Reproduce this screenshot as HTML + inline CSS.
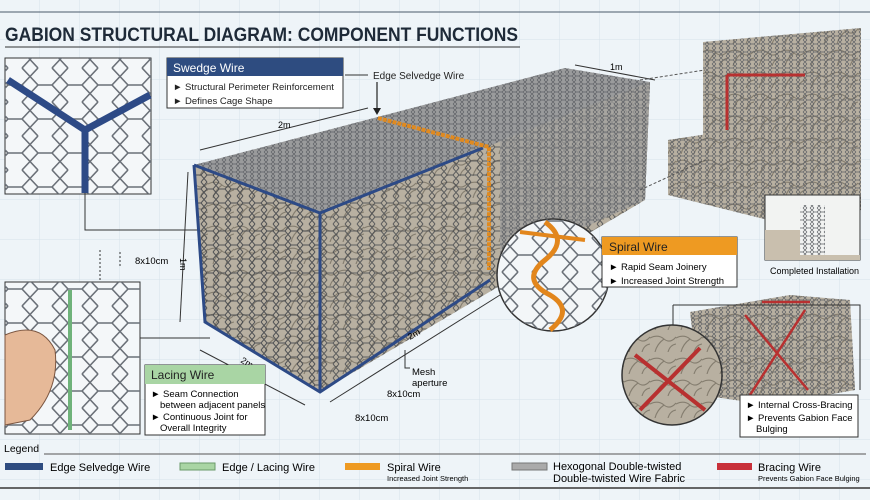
<!DOCTYPE html>
<html><head><meta charset="utf-8"><style>
html,body{margin:0;padding:0;background:#eef4f8}
svg{display:block}
text{font-family:"Liberation Sans",sans-serif}
</style></head><body>
<svg width="870" height="500" viewBox="0 0 870 500" xmlns="http://www.w3.org/2000/svg">
<defs>
<pattern id="grid" width="40" height="40" patternUnits="userSpaceOnUse"><path d="M40 0V40M0 40H40" stroke="#d6e2ea" stroke-width="1" fill="none"/></pattern>
<pattern id="hex" width="12" height="14" patternUnits="userSpaceOnUse"><path d="M3 0L0 3.5L3 7L9 7L12 3.5L9 0M3 7L0 10.5L3 14M9 7L12 10.5L9 14" fill="none" stroke="#3e4248" stroke-width="1"/></pattern>
<pattern id="hexs" width="7" height="8" patternUnits="userSpaceOnUse"><path d="M2 0L0 2L2 4L5 4L7 2L5 0M2 4L0 6L2 8M5 4L7 6L5 8" fill="none" stroke="#5d6065" stroke-width=".7"/></pattern>
<pattern id="hexbig" width="30" height="34" patternUnits="userSpaceOnUse"><path d="M8 0L0 8.5L8 17L22 17L30 8.5L22 0M8 17L0 25.5L8 34M22 17L30 25.5L22 34" fill="none" stroke="#6a7078" stroke-width="1.6"/></pattern>
<pattern id="stone" width="26" height="22" patternUnits="userSpaceOnUse"><rect width="26" height="22" fill="#b8b0a1"/><path d="M0 8Q8 4 14 9T26 7M5 22Q7 14 14 9M18 22Q20 15 26 14" fill="none" stroke="#847d6f" stroke-width="1.1"/></pattern>
</defs>
<rect width="870" height="500" fill="#eef4f8"/>
<rect width="870" height="500" fill="url(#grid)"/>
<line x1="0" y1="12" x2="870" y2="12" stroke="#4a5a6a" stroke-width="1"/>
<text x="5" y="41" font-size="19" font-weight="bold" fill="#1e2a38" textLength="513" lengthAdjust="spacingAndGlyphs">GABION STRUCTURAL DIAGRAM: COMPONENT FUNCTIONS</text>
<line x1="5" y1="47" x2="520" y2="47" stroke="#333" stroke-width="1"/>

<rect x="5" y="58" width="146" height="136" fill="#f4f7f9" stroke="#333"/>
<rect x="5" y="58" width="146" height="136" fill="url(#hexbig)"/>
<path d="M8 80L85 130L150 95M85 130V193" stroke="#2d4a86" stroke-width="7" fill="none"/>
<path d="M85 193V230H200" stroke="#333" fill="none"/>

<rect x="167" y="58" width="176" height="50" fill="#fff" stroke="#333"/>
<rect x="167" y="58" width="176" height="18" fill="#2e4c80"/>
<text x="173" y="72" font-size="12" fill="#fff">Swedge Wire</text>
<text x="173" y="90" font-size="9.5" fill="#222">► Structural Perimeter Reinforcement</text>
<text x="173" y="104" font-size="9.5" fill="#222">► Defines Cage Shape</text>
<path d="M345 75H368" stroke="#333"/>
<text x="373" y="79" font-size="10" fill="#222">Edge Selvedge Wire</text>
<path d="M377 82V112" stroke="#222" stroke-width="1.2"/><path d="M373 108L377 115L381 108Z" fill="#222"/>

<polygon points="194,165 320,213 645,200 650,82 565,68" fill="#9a9b9c"/>
<polygon points="194,165 320,213 650,82 565,68" fill="url(#hexs)"/>
<polygon points="320,213 650,82 645,200 320,392" fill="url(#stone)"/>
<polygon points="320,213 650,82 645,200 320,392" fill="url(#hex)" opacity=".75"/>
<polygon points="500,140 650,82 645,200 500,265" fill="#a2a2a0" opacity=".75"/>
<polygon points="500,140 650,82 645,200 500,265" fill="url(#hexs)"/>
<polygon points="194,165 320,213 320,392 205,322" fill="url(#stone)"/>
<polygon points="194,165 320,213 320,392 205,322" fill="url(#hex)" opacity=".85"/>
<path d="M194,165L320,213L483,148M320,213V392M194,165L205,322L320,392L490,280" stroke="#2d4a86" stroke-width="3" fill="none"/>
<path d="M378,118L489,147V270" stroke="#e08a20" stroke-width="4" fill="none" stroke-dasharray="4 1"/>
<path d="M188,172L180,322" stroke="#333"/><text x="180" y="258" font-size="9" transform="rotate(90 180 258)">1m</text>
<path d="M200,150L368,108" stroke="#333"/><text x="278" y="128" font-size="9">2m</text>
<path d="M575,65L655,80" stroke="#333"/><text x="610" y="70" font-size="9">1m</text>
<path d="M200,350L305,405" stroke="#333"/><text x="240" y="362" font-size="9" transform="rotate(30 240 362)">2m</text>
<path d="M330,402L500,295" stroke="#333"/><text x="410" y="340" font-size="9" transform="rotate(-30 410 340)">2m</text>
<text x="412" y="375" font-size="9.5">Mesh</text><text x="412" y="386" font-size="9.5">aperture</text>
<path d="M405,350V368H410" stroke="#333" fill="none"/>
<text x="387" y="397" font-size="9.5">8x10cm</text>
<text x="355" y="421" font-size="9.5">8x10cm</text>
<text x="135" y="264" font-size="9.5">8x10cm</text>
<path d="M120,252V268M100,250V300" stroke="#333" stroke-dasharray="2 2"/>

<polygon points="703,42 861,28 861,130 800,140 703,150" fill="url(#stone)"/>
<polygon points="703,42 861,28 861,130 800,140 703,150" fill="url(#hexs)"/>
<polygon points="668,140 800,120 861,118 861,210 800,228 668,195" fill="url(#stone)"/>
<polygon points="668,140 800,120 861,118 861,210 800,228 668,195" fill="url(#hexs)"/>
<path d="M727,75V130M727,75H805" stroke="#b83030" stroke-width="3"/>
<path d="M640,80L705,70M640,190L705,160" stroke="#555" stroke-dasharray="3 2"/>
<rect x="765" y="195" width="95" height="65" fill="#f2f3f2" stroke="#333"/>
<polygon points="765,230 800,230 800,255 860,255 860,260 765,260" fill="#c9bfae"/>
<rect x="800" y="205" width="25" height="50" fill="url(#hexs)"/>
<text x="770" y="274" font-size="9">Completed Installation</text>

<circle cx="553" cy="275" r="56" fill="#f3f6f8" stroke="#333" stroke-width="1.5"/>
<circle cx="553" cy="275" r="56" fill="url(#hexbig)"/>
<path d="M545,222Q570,240 545,260Q520,280 550,295Q575,310 550,330" stroke="#e2861c" stroke-width="5" fill="none"/>
<path d="M520,232L585,240" stroke="#e2861c" stroke-width="4"/>
<rect x="602" y="237" width="135" height="50" fill="#fff" stroke="#333"/>
<rect x="602" y="237" width="135" height="18" fill="#ee9a22"/>
<text x="609" y="251" font-size="12" fill="#222">Spiral Wire</text>
<text x="609" y="270" font-size="9.5">► Rapid Seam Joinery</text>
<text x="609" y="284" font-size="9.5">► Increased Joint Strength</text>

<polygon points="690,312 790,295 850,300 855,390 770,405 700,395" fill="url(#stone)"/>
<polygon points="690,312 790,295 850,300 855,390 770,405 700,395" fill="url(#hexs)"/>
<path d="M745,315L808,390M805,310L750,395M762,302H810" stroke="#b83030" stroke-width="2.5"/>
<path d="M673,305V330M673,305H860V390" stroke="#333" fill="none"/>
<circle cx="672" cy="375" r="50" fill="url(#stone)" stroke="#333" stroke-width="1.5"/>
<path d="M635,355L705,410M700,348L640,410" stroke="#b83030" stroke-width="4"/>
<rect x="740" y="395" width="118" height="42" fill="#fff" stroke="#333"/>
<text x="746" y="408" font-size="9.5">► Internal Cross-Bracing</text>
<text x="746" y="421" font-size="9.5">► Prevents Gabion Face</text>
<text x="756" y="432" font-size="9.5">Bulging</text>

<rect x="5" y="282" width="135" height="152" fill="#f4f7f9" stroke="#333"/>
<rect x="5" y="282" width="135" height="152" fill="url(#hexbig)"/>
<path d="M70,290V430" stroke="#6fb27a" stroke-width="4"/>
<path d="M5,335Q40,320 55,350Q60,390 30,420L5,425Z" fill="#e6b998" stroke="#7a5540"/>
<path d="M140,338H210" stroke="#333"/>
<rect x="145" y="365" width="120" height="70" fill="#fff" stroke="#333"/>
<rect x="145" y="365" width="120" height="19" fill="#a9d5a4"/>
<text x="151" y="379" font-size="12" fill="#222">Lacing Wire</text>
<text x="151" y="397" font-size="9.5">► Seam Connection</text>
<text x="160" y="408" font-size="9.5">between adjacent panels</text>
<text x="151" y="420" font-size="9.5">► Continuous Joint for</text>
<text x="160" y="431" font-size="9.5">Overall Integrity</text>

<text x="4" y="452" font-size="10.5">Legend</text>
<line x1="44" y1="454" x2="866" y2="454" stroke="#555"/>
<line x1="0" y1="488" x2="870" y2="488" stroke="#666" stroke-width="2"/>
<rect x="5" y="463" width="38" height="7" fill="#2e4c80"/>
<text x="50" y="471" font-size="11">Edge Selvedge Wire</text>
<rect x="180" y="463" width="35" height="7" fill="#a9d5a4" stroke="#6a9a6a"/>
<text x="222" y="471" font-size="11">Edge / Lacing Wire</text>
<rect x="345" y="463" width="35" height="7" fill="#ee9a22"/>
<text x="387" y="471" font-size="11">Spiral Wire</text>
<text x="387" y="481" font-size="7.5">Increased Joint Strength</text>
<rect x="512" y="463" width="35" height="7" fill="#aaa" stroke="#777"/>
<text x="553" y="470" font-size="11">Hexogonal Double-twisted</text>
<text x="553" y="482" font-size="11">Double-twisted Wire Fabric</text>
<rect x="717" y="463" width="35" height="7" fill="#c8303a"/>
<text x="758" y="471" font-size="11">Bracing Wire</text>
<text x="758" y="481" font-size="7.5">Prevents Gabion Face Bulging</text>
</svg>
</body></html>
